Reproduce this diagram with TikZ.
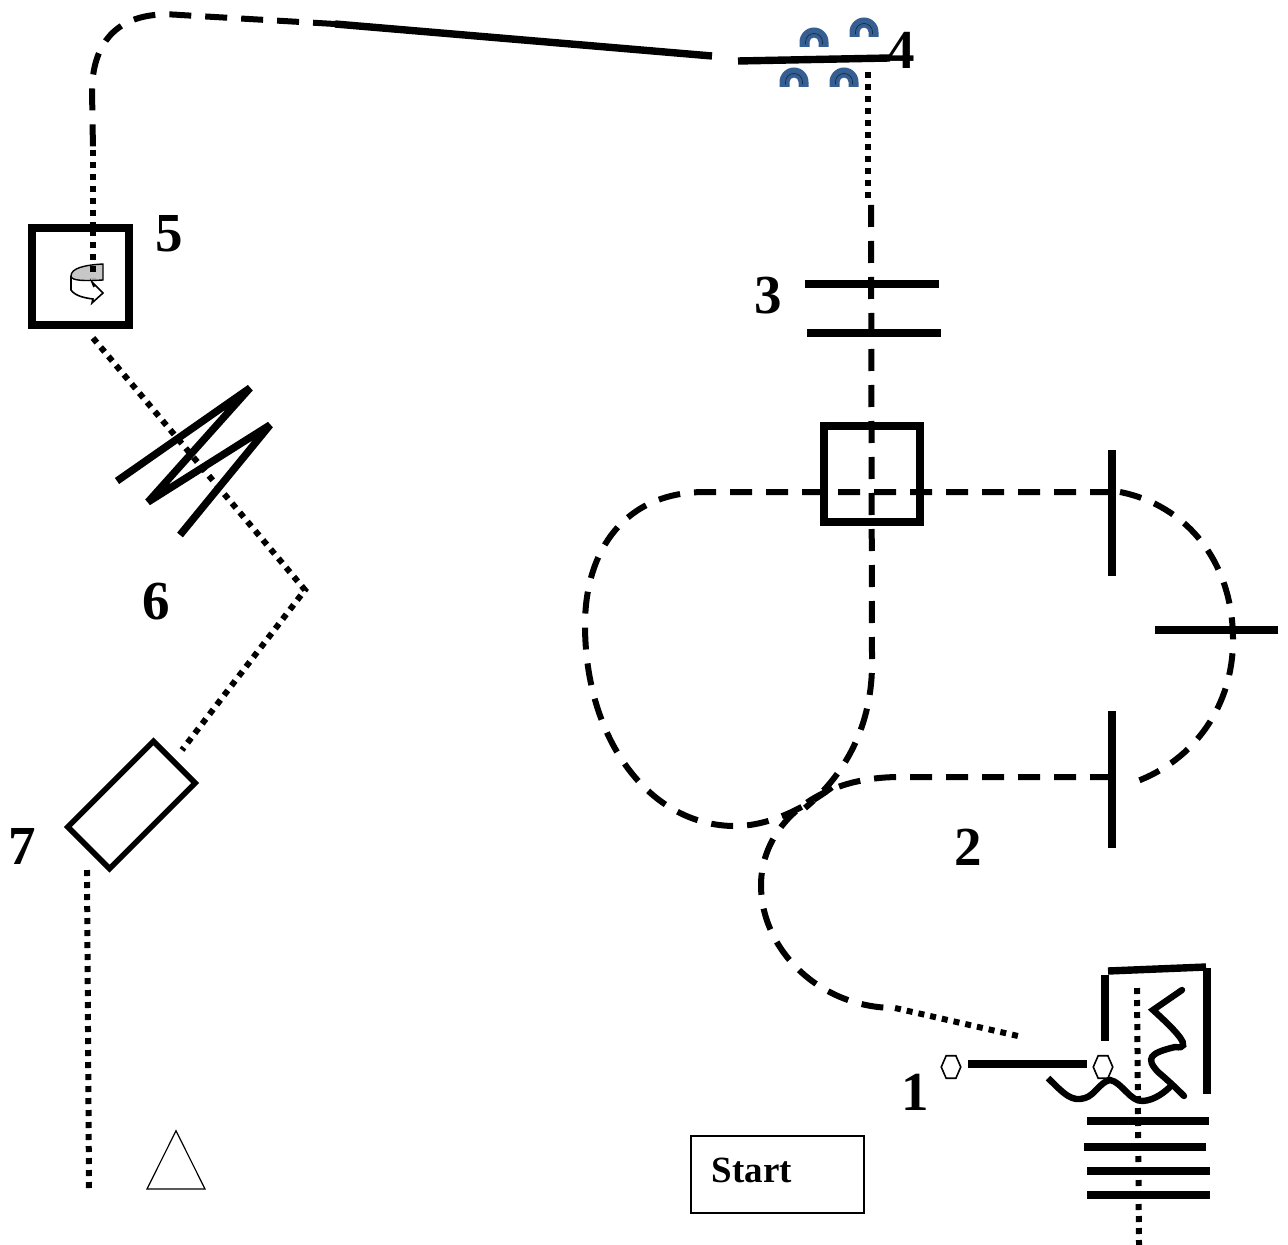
\documentclass[tikz,border=0pt]{standalone}
\usepackage{fontspec}
\setmainfont{Liberation Serif}
\usetikzlibrary{shapes.geometric}
\definecolor{archblue}{HTML}{355F93}
\tikzset{
  thick line/.style={line width=3.7pt},
  dashline/.style={line width=3pt,dash pattern=on 11pt off 7pt},
  dotline/.style={line width=3pt,dash pattern=on 3pt off 3pt},
  numlabel/.style={font=\bfseries\fontsize{27.5}{27.5}\selectfont,inner sep=0pt},
  boxsq/.style={draw,line width=4pt,minimum size=48pt,inner sep=0pt},
  hexa/.style={draw,line width=.8pt,regular polygon,regular polygon sides=6,shape border rotate=0,minimum width=13pt,inner sep=0pt,xscale=.75},
  arch/.pic={
    \fill[archblue] (-14.5,1) arc[start angle=180,end angle=360,radius=14.5] -- (14.5,6) -- (4.5,6) -- (4.5,1) arc[start angle=360,end angle=180,radius=4.5] -- (-4.5,6) -- (-14.5,6) -- cycle;
    \draw[archblue!45!black,line width=.35pt] (-8.5,3.5) -- (-8.5,1) arc[start angle=180,end angle=360,radius=8.5] -- (8.5,3.5);
  }
}
\begin{document}
\begin{tikzpicture}[x=0.5pt,y=-0.5pt]
\useasboundingbox (0,0) rectangle (1288,1245);
% named points
\coordinate (topA) at (335,24);
\coordinate (topB) at (712,56);
\coordinate (topC) at (93,150);
\coordinate (beamTop) at (868,72);
\coordinate (beamMid) at (871,205);
\coordinate (m1c) at (1112,492);
\coordinate (m3c) at (1112,777);
\coordinate (bend) at (305,590);
\coordinate (s5low) at (93,338);
\coordinate (lasTop) at (182,750);
\coordinate (lasBot) at (87,870);
\coordinate (beamEnd) at (89,1188);
\coordinate (loopD) at (895,1008);
\coordinate (loopE) at (1018,1036);
% top beam
\draw[thick line] (topA) -- (topB);
\draw[dashline] (topA) -- (180,15) .. controls (125,10) and (93,35) .. (92,90) -- (topC);
\node[boxsq,minimum size=48.5pt] (s5) at (80.5,276.5) {};
\draw[dotline] (topC) -- (93,230);
% rotating icon
\draw[line width=.7pt,fill=black!22] (103,264) .. controls (85,265) and (71,268) .. (71,276) .. controls (71,281) and (85,281) .. (103,280) -- cycle;
\draw[line width=.8pt] (71,276) -- (71,290) .. controls (75,296) and (85,298) .. (93,299) -- (92,303) -- (103,293) -- (92,282) -- (94,287);
\draw[dotline] (93,230) -- (93,278);
% mirror 6, folded path
\draw[dotline] (s5low) -- (bend) -- (lasTop);
\draw[thick line,line join=bevel] (117,481) -- (250,388) -- (148,502) -- (270,425) -- (180,535);
\node[numlabel] (n6) at (156,602) {6};
% laser
\node[draw,line width=2.8pt,minimum width=60.5pt,minimum height=29.5pt,inner sep=0pt,rotate=45] (laser) at (131.5,805) {};
\draw[dotline] (lasBot) -- (beamEnd);
\node[draw,line width=.6pt,isosceles triangle,isosceles triangle apex angle=53,shape border rotate=90,inner sep=0pt,minimum height=29pt,minimum width=29pt] (tri) at (176,1171) {};
\node[numlabel] (n7) at (22,846) {7};
\node[numlabel] (n5) at (169,234) {5};
% right
\draw[thick line] (738,61) -- (890,58);
\pic at (814,41) {arch};
\pic at (864,31) {arch};
\pic at (794,81) {arch};
\pic at (844,81) {arch};
\node[numlabel,fill=none] (n4) at (901,50) {4};
\draw[dotline] (beamTop) -- (868,203);
\draw[dashline] (beamMid) -- (872,660) .. controls (873,725) and (845,775) .. (805,808);
\draw[thick line] (805,284) -- (939,284);
\draw[thick line] (807,333) -- (941,333);
\node[numlabel] (n3) at (768,296) {3};
\node[boxsq] (bs) at (872,474) {};
\draw[dashline] (m1c) -- (705,492) .. controls (625,492) and (585,550) .. (585,625) .. controls (585,740) and (650,826) .. (735,826) .. controls (770,826) and (805,808) .. (835,785);
\draw[dashline] (1120,492) .. controls (1185,505) and (1233,560) .. (1233,640) .. controls (1233,705) and (1195,760) .. (1135,782);
\draw[dashline] (m3c) -- (900,777) .. controls (810,777) and (761,830) .. (761,885) .. controls (761,950) and (820,1008) .. (loopD);
\draw[dotline] (loopD) -- (loopE);
\draw[thick line] (1112,450) -- (1112,576);
\draw[thick line] (1112,711) -- (1112,848);
\draw[thick line] (1155,630) -- (1278,630);
\node[numlabel] (n2) at (968,847) {2};
% source
\draw[thick line] (1105,975) -- (1105,1041);
\draw[thick line] (1108,971) -- (1206,967);
\draw[thick line] (1207,968) -- (1207,1094);
\draw[dotline] (1137,988) -- (1139,1245);
\draw[line width=3.2pt,line cap=round] (1182,990) -- (1153,1010) .. controls (1175,1030) and (1195,1050) .. (1175,1047) .. controls (1150,1053) and (1145,1058) .. (1158,1072) .. controls (1170,1082) and (1180,1092) .. (1184,1096);
\draw[line width=3.2pt] (1048,1078) .. controls (1065,1095) and (1072,1102) .. (1085,1098) .. controls (1095,1095) and (1100,1082) .. (1110,1080) .. controls (1122,1082) and (1130,1102) .. (1143,1101) .. controls (1155,1100) and (1165,1092) .. (1172,1085);
\node[hexa] (h1) at (951,1067) {};
\node[hexa] (h2) at (1103,1067) {};
\draw[thick line] (968,1064) -- (1087,1064);
\foreach \y/\a/\b in {1121/1087/1209,1147/1084/1206,1171/1087/1210,1195/1087/1210}
  \draw[thick line] (\a,\y) -- (\b,\y);
\node[numlabel] (n1) at (915,1092) {1};
\node[draw,line width=.7pt,minimum width=86.5pt,minimum height=38.5pt,inner sep=0pt] (startbox) at (777.5,1174.5) {};
\node[font=\bfseries\fontsize{18.5}{18.5}\selectfont,inner sep=0pt] (start) at (752,1170) {Start};
\end{tikzpicture}
\end{document}
